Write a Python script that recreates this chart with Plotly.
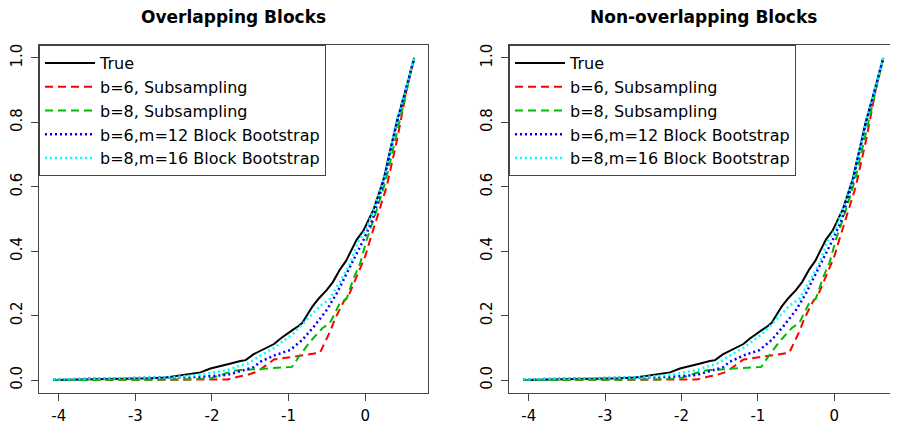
import plotly.graph_objects as go

# ---------------- data ----------------
true_x = [-4.07, -3.8, -3.5, -3.2, -3.0, -2.8, -2.6, -2.45, -2.3, -2.15, -2.02, -1.9, -1.78,
          -1.63, -1.56, -1.46, -1.37, -1.28, -1.19, -1.1, -1.02, -0.95, -0.87, -0.82, -0.75,
          -0.69, -0.6, -0.5, -0.42, -0.33, -0.25, -0.2, -0.11, -0.02, 0.11, 0.24, 0.41, 0.53, 0.64]
true_y = [0.0, 0.001, 0.002, 0.004, 0.005, 0.006, 0.008, 0.013, 0.018, 0.024, 0.036, 0.042, 0.05,
          0.059, 0.062, 0.08, 0.09, 0.1, 0.112, 0.13, 0.142, 0.155, 0.168, 0.178, 0.205,
          0.228, 0.255, 0.28, 0.305, 0.343, 0.37, 0.395, 0.436, 0.465, 0.53, 0.623, 0.80, 0.9, 1.0]

sub6_x = [-4.07, -3.0, -2.2, -1.98, -1.8, -1.63, -1.54, -1.41, -1.3, -1.19, -0.87, -0.59, -0.46,
          -0.39, -0.28, -0.22, -0.11, 0.0, 0.065, 0.28, 0.42, 0.54, 0.64]
sub6_y = [0.0, 0.0, 0.0, 0.0, 0.002, 0.012, 0.016, 0.026, 0.045, 0.064, 0.075, 0.085, 0.15,
          0.192, 0.244, 0.26, 0.322, 0.384, 0.436, 0.60, 0.75, 0.90, 1.0]

sub8_x = [-4.07, -3.0, -2.32, -2.02, -1.8, -1.72, -1.63, -1.28, -0.955, -0.85, -0.72, -0.56,
          -0.46, -0.33, -0.24, -0.15, -0.065, 0.02, 0.14, 0.27, 0.5, 0.64]
sub8_y = [0.0, 0.0, 0.002, 0.005, 0.021, 0.029, 0.031, 0.036, 0.041, 0.078, 0.119, 0.161,
          0.177, 0.239, 0.254, 0.317, 0.363, 0.436, 0.52, 0.62, 0.85, 1.0]

bb6_x = [-4.07, -3.5, -3.0, -2.6, -2.15, -1.8, -1.63, -1.455, -1.37, -1.17, -0.98, -0.82,
         -0.67, -0.5, -0.37, -0.24, -0.11, -0.02, 0.1, 0.24, 0.41, 0.64]
bb6_y = [0.002, 0.004, 0.006, 0.007, 0.01, 0.016, 0.028, 0.04, 0.057, 0.078, 0.093, 0.125,
         0.166, 0.218, 0.27, 0.332, 0.395, 0.436, 0.5, 0.615, 0.795, 1.0]

bb8_x = [-4.07, -3.5, -3.0, -2.6, -2.15, -1.8, -1.63, -1.54, -1.41, -1.19, -0.93, -0.76,
         -0.59, -0.46, -0.33, -0.2, -0.09, 0.02, 0.24, 0.41, 0.64]
bb8_y = [0.002, 0.004, 0.006, 0.008, 0.016, 0.031, 0.045, 0.05, 0.07, 0.1, 0.146, 0.188,
         0.23, 0.252, 0.304, 0.36, 0.43, 0.47, 0.62, 0.80, 1.0]

series_names = ["True", "b=6, Subsampling", "b=8, Subsampling",
                "b=6,m=12 Block Bootstrap", "b=8,m=16 Block Bootstrap"]
panel_titles = ["Overlapping Blocks", "Non-overlapping Blocks"]
x_ticks = [-4, -3, -2, -1, 0]
x_ticktext = ["-4", "-3", "-2", "-1", "0"]
y_ticks = [0.0, 0.2, 0.4, 0.6, 0.8, 1.0]
y_ticktext = ["0.0", "0.2", "0.4", "0.6", "0.8", "1.0"]

# ---------------- styling ----------------
FONT = "DejaVu Sans, Liberation Sans, Arial, sans-serif"
colors = ["#000000", "#FF0000", "#00BB00", "#0000FF", "#00FFFF"]
dashes = ["solid", "8px,5px", "8px,5px", "2px,3px", "2px,3px"]
widths = [2, 2, 2, 2.5, 2.5]
data_x = [true_x, sub6_x, sub8_x, bb6_x, bb8_x]
data_y = [true_y, sub6_y, sub8_y, bb6_y, bb8_y]

# the page body adds an 8px offset, so the figure is 8px smaller and margins shifted
OFF = 8
W, H = 898 - OFF, 426 - OFF
ml, mr, mt, mb = 39 - OFF, 1, 45 - OFF, 33
pw = W - ml - mr
dom1 = [0, (428 - 39) / pw]
dom2 = [(509 - 39) / pw, 1]

fig = go.Figure()
for p, (xa, ya, lg) in enumerate([("x", "y", "legend"), ("x2", "y2", "legend2")]):
    for i in range(5):
        fig.add_trace(go.Scatter(
            x=data_x[i], y=data_y[i], mode="lines", name=series_names[i],
            line=dict(color=colors[i], width=widths[i], dash=dashes[i]),
            xaxis=xa, yaxis=ya, legend=lg, hoverinfo="skip"))

axis_common = dict(showgrid=False, zeroline=False, showline=True, mirror=True,
                   linecolor="#444", linewidth=1, ticks="outside", ticklen=7,
                   tickcolor="#444", automargin=False,
                   tickfont=dict(family=FONT, size=15, color="#000"))

xcommon = dict(range=[-4.258, 0.82], tickvals=x_ticks, ticktext=x_ticktext,
               ticklabelstandoff=2, **axis_common)
ycommon = dict(domain=[0, 1], range=[-0.04, 1.04], tickvals=y_ticks, ticktext=y_ticktext,
               tickangle=-90, ticklabelstandoff=3, **axis_common)

legend_common = dict(y=1, xanchor="left", yanchor="top", bgcolor="white",
                     bordercolor="#444", borderwidth=1, font=dict(family=FONT, size=16, color="#000"),
                     tracegroupgap=0, itemwidth=50)

fig.update_layout(
    width=W, height=H, margin=dict(l=ml, r=mr, t=mt, b=mb, autoexpand=False),
    paper_bgcolor="white", plot_bgcolor="white",
    font=dict(family=FONT, color="#000"),
    xaxis=dict(domain=dom1, anchor="y", **xcommon),
    yaxis=dict(anchor="x", **ycommon),
    xaxis2=dict(domain=dom2, anchor="y2", **xcommon),
    yaxis2=dict(anchor="x2", **ycommon),
    legend=dict(x=dom1[0], **legend_common),
    legend2=dict(x=dom2[0], **legend_common),
    showlegend=True,
)

for t, dom in zip(panel_titles, [dom1, dom2]):
    fig.add_annotation(text="<b>%s</b>" % t, x=(dom[0] + dom[1]) / 2, y=1,
                       xref="paper", yref="paper", xanchor="center", yanchor="middle",
                       yshift=28, showarrow=False,
                       font=dict(family=FONT, size=17, color="#000"))

fig.write_html("out.html")
